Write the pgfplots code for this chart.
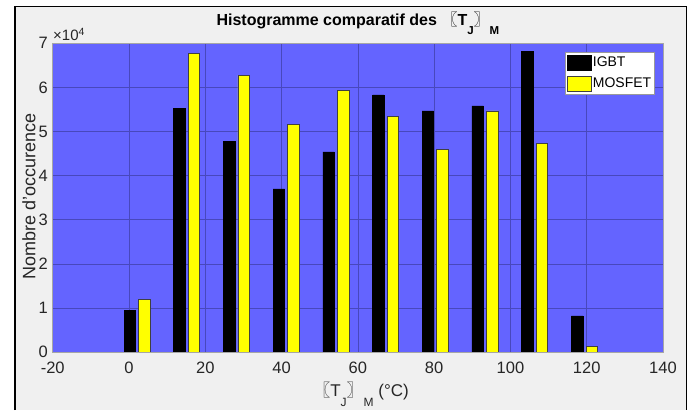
\documentclass[border=0pt]{standalone}
\usepackage{pgfplots}
\pgfplotsset{compat=1.18}
\usepackage{fontspec}
\setmainfont{Liberation Sans}
\newfontfamily\cjk{Noto Sans CJK SC}
\definecolor{bgblue}{RGB}{100,100,255}
\definecolor{gridc}{RGB}{72,72,188}
\definecolor{figgray}{RGB}{240,240,240}
\definecolor{txt}{RGB}{38,38,38}
\definecolor{ybar}{RGB}{255,255,0}
\begin{document}
\begin{tikzpicture}
\useasboundingbox (0pt,0pt) rectangle (694pt,410pt);
\fill[white] (0pt,0pt) rectangle (694pt,410pt);
\fill[figgray] (15pt,0pt) rectangle (686.7pt,403.3pt);
\draw[black, line width=1.3pt] (15pt,0pt) -- (15pt,403.3pt) -- (686.7pt,403.3pt) -- (686.7pt,0pt);
\begin{axis}[
  at={(52.7pt,58pt)}, anchor=south west,
  scale only axis, width=610.3pt, height=308.7pt,
  xmin=-20, xmax=140, ymin=0, ymax=70000,
  xtick={-20,0,20,40,60,80,100,120,140},
  ytick={0,10000,20000,30000,40000,50000,60000,70000},
  scaled y ticks=base 10:-4,
  ytick scale label code/.code={},
  /pgf/number format/assume math mode=true,
  tick label style={font=\fontsize{16.5}{18}\selectfont, text=txt},
  xticklabel style={inner sep=0pt, anchor=north, yshift=-9.5pt},
  yticklabel style={inner sep=0pt, anchor=east, xshift=-4.7pt},
  major tick length=0pt,
  grid=major,
  major grid style={gridc, line width=0.6pt},
  axis background/.style={fill=bgblue},
  axis line style={black!35, line width=0.6pt},
  legend cell align=left,
  legend style={at={(rel axis cs:1,1)}, anchor=north east, xshift=-8pt, yshift=-8.4pt,
    draw=black!40, line width=0.6pt, fill=white, inner xsep=2pt, inner ysep=3pt, row sep=5pt,
    font=\fontsize{14}{16}\selectfont, nodes={inner xsep=1.5pt, inner ysep=1pt}},
]
\addplot[ybar, bar width=3, bar shift=0pt, fill=black, draw=black, line width=0.5pt,
  legend image code/.code={\draw[fill=black, draw=black, line width=0.5pt] (0pt,-7.5pt) rectangle (24pt,7.5pt);}]
  coordinates {(0.2,9400) (13.23,55200) (26.26,47700) (39.29,37000) (52.32,45400)
               (65.35,58300) (78.38,54700) (91.41,55800) (104.44,68100) (117.47,8200)};
\addlegendentry{IGBT}
\addplot[ybar, bar width=3, bar shift=0pt, fill=ybar, draw=black!75, line width=0.5pt,
  legend image code/.code={\draw[fill=ybar, draw=black!75, line width=0.5pt] (0pt,-7.5pt) rectangle (24pt,7.5pt);}]
  coordinates {(4.0,12000) (17.03,67700) (30.06,62800) (43.09,51700) (56.12,59300)
               (69.15,53400) (82.18,46000) (95.21,54700) (108.24,47300) (121.27,1300)};
\addlegendentry{MOSFET}
\end{axis}
\node[anchor=base west, text=txt, font=\fontsize{15}{17}\selectfont, inner sep=0pt] at (53pt,369.3pt) {×10\textsuperscript{4}};
\node[anchor=base, font=\bfseries\fontsize{16}{18}\selectfont, inner sep=0pt] at (357.9pt,384pt)
  {Histogramme comparatif des {\cjk\mdseries 〖}T\raisebox{-9pt}{\fontsize{11.5}{12}\selectfont J}{\cjk\mdseries 〗}\raisebox{-9pt}{\fontsize{11.5}{12}\selectfont M}};
\node[anchor=base, font=\fontsize{17}{19}\selectfont, text=txt, inner sep=0pt] at (361pt,13.3pt)
  {{\cjk 〖}T\raisebox{-9.9pt}{\fontsize{12}{13}\selectfont J}{\cjk 〗}\raisebox{-9.9pt}{\fontsize{12}{13}\selectfont M} (°C)};
\node[rotate=90, font=\fontsize{18}{20}\selectfont, text=txt, inner sep=0pt] at (29pt,214pt) {Nombre d'occurence};
\end{tikzpicture}
\end{document}
